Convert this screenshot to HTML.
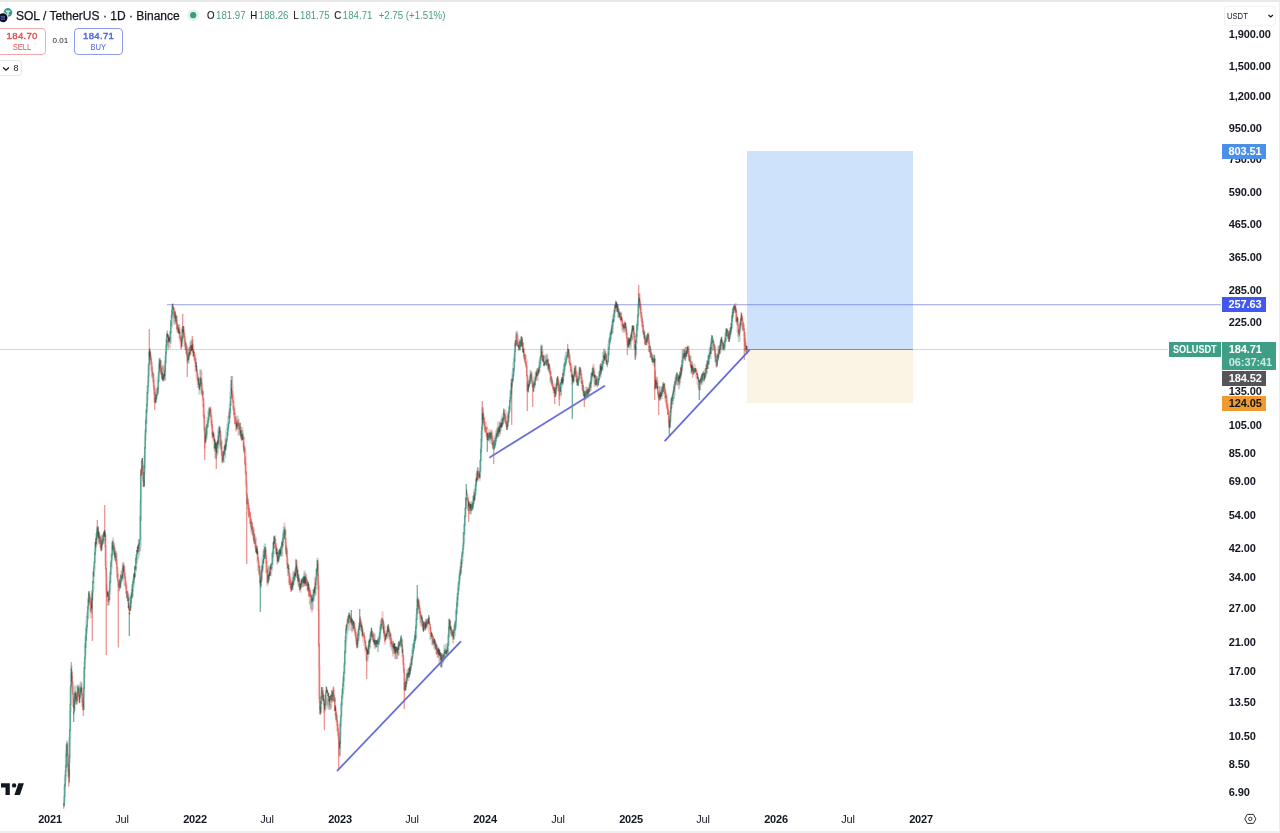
<!DOCTYPE html>
<html lang="en">
<head>
<meta charset="utf-8">
<title>SOL / TetherUS chart</title>
<style>
*{box-sizing:border-box;margin:0;padding:0}
html,body{width:1280px;height:833px;overflow:hidden;background:#fff}
body{position:relative;font-family:"Liberation Sans","DejaVu Sans",sans-serif;color:#131722}
.abs{position:absolute}
#topbar{left:0;top:0;width:1280px;height:2.2px;background:#e8e8e9}
#botbar{left:0;top:830.6px;width:1280px;height:4px;background:#eeeeef}
#rightbar{left:1278.6px;top:0;width:2px;height:833px;background:#ededee}
#chart{left:0;top:0;width:1280px;height:833px}
.title{left:15.8px;top:7.5px;font-size:12.5px;line-height:16px;white-space:nowrap;color:#131722;transform-origin:0 0;transform:scaleX(0.962);-webkit-text-stroke:0.25px #131722}
.ohlc{left:206.7px;top:10.4px;font-size:10.3px;line-height:12px;white-space:nowrap;color:#131722;transform-origin:0 0;transform:scaleX(0.94);-webkit-text-stroke:0.15px currentColor}
.ohlc span{color:#4a9b87;margin-left:1.6px;-webkit-text-stroke:0}
.ohlc i{font-style:normal;display:inline-block;width:5px}
.btn{top:28.2px;height:27px;border:1px solid;border-radius:4px;text-align:center;font-size:9.6px;line-height:10.6px;padding-top:1.6px;background:#fff}
.btn b{font-weight:400;-webkit-text-stroke:0.4px currentColor;letter-spacing:0.3px;margin-right:-0.3px}
.btn span{font-size:9px;display:inline-block;transform:scaleX(0.84);position:relative;top:0.4px}
.sell{left:-3px;width:48.8px;border-color:#f0a9a7;color:#e2524f;padding-left:1.3px}
.buy{left:74px;width:49px;border-color:#8d9bf0;color:#4c62e6}
.spread{left:52.6px;top:36px;font-size:8px;line-height:10px;color:#131722}
.dd{left:-3px;top:60.3px;width:24.6px;height:16.2px;border:1px solid #e6e7ea;border-radius:3px;font-size:9px;line-height:14.4px;padding-left:15.6px}
.pl{position:absolute;left:1228.8px;font-size:11px;line-height:14px;font-weight:700;color:#131722;white-space:nowrap;letter-spacing:-0.1px}
.tag{position:absolute;font-size:11px;line-height:15px;font-weight:700;color:#fff;white-space:nowrap;padding-left:7px;letter-spacing:-0.1px}
.tl{position:absolute;top:811.8px;width:60px;text-align:center;font-size:11px;line-height:14px;color:#131722;letter-spacing:-0.2px}
.tl.b{font-weight:700}
.usdt{left:1224px;top:5.6px;width:51.7px;height:20.2px;border:1px solid #f0f1f3;border-radius:3px;font-size:9.8px;line-height:18.6px;padding-left:2px;color:#131722}
.usdt span{display:inline-block;transform-origin:0 50%;transform:scaleX(0.78)}
</style>
</head>
<body>
<svg id="chart" class="abs" width="1280" height="833" viewBox="0 0 1280 833">
  <!-- long position box -->
  <rect x="747" y="151" width="166" height="198.5" fill="#cee3fb"/>
  <rect x="747" y="349.5" width="166" height="53.7" fill="#fbf3e3"/>
  <!-- dotted current price line -->
  <line x1="0" y1="349.5" x2="1168" y2="349.5" stroke="#d9dcdd" stroke-width="1"/>
  <line x1="0" y1="349.5" x2="1168" y2="349.5" stroke="#b9c4c1" stroke-width="1" stroke-dasharray="1 3" opacity="0.45"/>
  <line x1="747" y1="349.5" x2="913" y2="349.5" stroke="#868e94" stroke-width="1.2"/>
  <!-- horizontal ray -->
  <line x1="167" y1="304.5" x2="1221" y2="304.5" stroke="#5560d4" stroke-width="1" opacity="0.46"/>
  <line x1="167" y1="305.5" x2="1221" y2="305.5" stroke="#5560d4" stroke-width="1" opacity="0.13"/>
  <!-- candles -->
  <path d="M64.25 796.0V806.3M64.75 783.7V797.1M65.25 775.0V786.7M65.75 764.7V776.3M66.25 754.1V767.7M66.75 743.4V755.8M69.25 756.1V782.6M69.75 729.2V757.5M70.25 703.5V731.2M70.75 685.4V705.1M71.25 668.5V686.7M74.25 699.8V711.7M74.75 692.9V704.9M75.25 692.3V699.6M77.25 691.6V701.3M77.75 686.5V694.2M78.25 687.3V690.9M79.75 694.8V702.8M80.25 687.5V698.0M80.75 687.8V691.4M81.25 686.2V692.5M83.75 686.9V710.2M84.25 667.0V689.1M84.75 656.9V669.0M85.25 643.0V658.0M85.75 634.5V648.1M86.25 627.8V641.1M86.75 624.7V633.8M87.25 616.1V627.6M87.75 606.1V618.1M88.25 599.3V609.5M88.75 591.2V601.8M91.75 597.7V608.2M92.25 591.3V600.9M92.75 581.3V592.8M93.75 567.6V576.6M94.25 561.7V568.6M94.75 552.3V562.9M95.25 542.0V555.0M96.25 533.0V544.1M96.75 530.6V538.4M97.25 527.5V536.4M97.75 527.5V533.5M98.75 531.6V538.3M101.75 540.0V549.1M102.25 541.5V545.8M102.75 538.8V543.5M103.25 533.8V540.9M103.75 531.4V536.8M104.75 530.1V537.1M107.75 591.2V597.1M109.25 590.5V600.2M109.75 581.0V591.6M110.25 572.3V582.8M110.75 562.1V574.6M111.25 560.4V566.9M111.75 553.9V561.6M112.25 542.6V556.2M112.75 541.3V551.3M114.75 550.7V557.4M120.25 579.8V588.5M120.75 574.7V584.4M121.25 577.3V580.3M121.75 576.4V581.5M122.75 567.6V577.5M123.25 564.8V572.5M128.25 597.6V608.2M130.25 606.0V610.9M130.75 596.5V607.4M131.25 595.6V603.4M131.75 592.7V598.8M132.25 584.5V596.5M132.75 581.2V591.3M133.25 579.8V585.3M133.75 575.1V582.9M134.75 567.2V577.9M135.25 565.7V570.8M135.75 557.6V569.6M136.25 553.9V564.0M136.75 550.1V559.5M137.75 545.4V554.3M138.75 542.5V549.0M139.25 539.7V546.8M139.75 539.3V545.1M140.25 515.9V540.3M140.75 474.4V521.0M141.25 468.4V475.8M141.75 460.6V469.9M142.25 458.1V464.6M144.25 465.0V485.8M144.75 447.0V468.4M145.25 429.8V449.0M145.75 418.9V432.2M146.25 409.6V423.7M146.75 403.4V413.0M147.25 392.1V406.1M147.75 385.6V394.1M148.25 375.5V386.7M148.75 363.7V376.6M149.25 351.8V364.9M149.75 348.4V359.7M155.25 397.3V402.1M155.75 394.6V403.4M156.25 394.6V399.8M156.75 393.4V399.0M157.25 393.3V396.1M157.75 386.4V394.5M158.25 380.1V389.6M158.75 371.6V382.0M159.25 362.7V372.8M159.75 358.5V367.4M162.25 372.2V379.8M163.25 375.6V381.4M163.75 373.8V380.0M164.75 370.4V376.2M165.25 360.6V371.9M165.75 352.1V363.0M166.25 344.2V353.9M166.75 333.2V345.8M167.75 334.1V336.8M168.75 336.4V341.6M169.75 337.0V342.1M170.25 331.1V340.0M170.75 320.3V333.2M171.25 314.9V326.0M171.75 309.8V318.3M172.25 306.2V314.9M172.75 303.4V309.8M173.25 305.7V310.2M175.25 311.5V318.1M175.75 313.7V321.2M178.75 327.8V333.0M179.25 328.9V334.1M181.75 337.6V346.4M182.25 335.8V340.7M182.75 329.4V338.6M183.25 326.2V333.1M188.25 356.2V360.0M188.75 353.7V360.3M189.25 352.1V357.7M191.25 345.4V351.0M192.25 344.7V349.9M193.25 349.2V356.4M196.25 361.9V371.2M198.25 377.6V384.7M199.75 384.3V389.6M200.25 377.1V386.8M200.75 377.8V386.0M205.75 434.8V441.5M206.25 426.2V438.2M206.75 424.5V434.8M207.25 423.5V428.1M207.75 420.5V427.4M208.25 417.5V423.2M208.75 413.2V420.5M209.25 411.1V417.0M209.75 408.8V415.1M213.25 432.5V437.0M214.75 438.5V448.3M215.75 442.5V449.0M216.75 442.4V453.0M217.25 441.0V446.2M218.25 435.2V443.9M218.75 430.9V438.2M219.25 426.6V434.7M223.25 451.3V460.8M223.75 450.7V455.6M224.25 445.8V454.7M224.75 445.5V452.2M225.75 443.9V449.4M226.25 439.9V446.5M226.75 438.5V442.8M227.25 432.6V440.7M227.75 427.3V435.4M228.25 424.3V430.8M228.75 422.0V427.5M229.25 416.6V423.5M229.75 408.2V417.8M230.25 403.8V412.9M230.75 395.9V405.7M231.25 389.6V398.6M236.75 423.0V426.9M240.75 430.6V436.2M242.25 434.2V439.9M256.25 548.2V552.9M257.25 548.6V554.7M260.75 579.1V586.2M261.25 573.3V582.1M261.75 568.9V579.6M262.25 565.6V570.5M262.75 560.7V569.0M263.25 558.7V564.5M264.25 550.3V559.1M264.75 546.8V556.8M265.25 547.6V553.6M268.25 574.9V583.3M268.75 574.5V578.7M269.75 571.3V576.3M270.75 563.9V569.3M272.25 553.4V564.5M272.75 551.6V557.6M273.25 542.0V554.0M274.25 536.6V544.0M276.75 548.5V554.2M277.75 556.1V561.2M278.25 552.6V562.5M278.75 553.6V560.4M279.25 550.1V558.6M279.75 548.9V554.6M280.75 546.6V556.3M281.25 546.1V550.1M281.75 541.6V549.3M282.75 538.0V546.3M283.25 534.4V542.1M283.75 531.7V538.8M284.25 529.6V538.6M284.75 528.8V535.0M288.25 565.1V569.1M291.75 582.3V590.4M292.25 583.3V589.2M293.25 577.4V585.2M293.75 576.5V584.8M294.25 573.9V581.5M294.75 572.3V580.6M295.75 566.9V575.9M296.25 564.8V571.1M297.75 570.1V581.4M298.25 574.7V578.2M298.75 574.5V582.2M300.25 583.7V589.7M301.75 579.5V584.5M302.25 578.2V582.5M302.75 577.3V582.0M303.25 576.9V582.7M304.25 576.6V583.0M305.25 575.7V584.0M308.25 582.2V589.6M311.25 594.7V599.6M311.75 596.7V602.6M312.75 594.8V601.7M313.25 589.0V600.3M313.75 590.3V597.7M314.75 586.4V592.8M315.25 582.6V589.0M315.75 579.0V584.9M316.25 568.5V580.1M316.75 569.5V574.8M317.25 563.8V570.8M320.75 701.1V712.8M321.25 696.1V704.0M321.75 687.0V699.0M323.25 695.0V700.9M324.75 699.7V709.3M325.25 695.0V705.9M325.75 690.4V697.9M326.25 686.5V691.9M327.25 689.4V693.1M328.25 693.3V697.2M329.25 695.9V702.4M330.75 694.4V700.0M331.75 690.1V701.0M332.25 691.7V696.8M335.25 705.2V711.3M339.75 742.8V748.7M340.25 723.7V744.1M340.75 716.0V726.5M341.25 703.6V717.3M341.75 695.2V705.6M342.25 688.2V698.1M342.75 683.3V693.5M343.25 676.4V686.6M343.75 671.6V681.5M344.25 662.7V673.8M344.75 650.5V664.6M345.25 640.3V653.1M345.75 628.6V642.0M346.25 624.4V633.3M348.25 615.6V623.5M348.75 612.7V619.0M349.25 612.6V618.8M352.25 618.6V625.3M352.75 620.9V626.0M353.25 620.8V628.6M357.25 640.1V647.8M357.75 633.4V644.2M358.25 629.8V640.7M358.75 627.7V635.7M359.25 622.6V630.1M359.75 618.8V627.2M361.75 624.7V631.6M362.25 626.4V635.5M366.25 646.4V650.7M367.25 649.8V654.3M368.25 645.1V654.0M368.75 640.8V649.1M369.25 639.4V647.0M370.25 636.9V641.8M370.75 632.4V640.1M371.25 627.5V636.1M374.25 639.9V644.3M375.25 640.2V644.6M375.75 640.1V646.0M376.25 640.5V647.0M377.25 639.5V644.1M377.75 640.2V644.6M378.25 638.4V642.5M378.75 637.9V644.6M379.25 635.6V642.8M379.75 632.0V639.4M380.25 626.5V634.7M380.75 624.6V630.8M381.25 624.2V629.0M383.75 626.6V633.4M385.75 634.5V640.3M386.25 633.5V637.1M387.75 624.9V632.6M388.25 623.9V631.9M393.75 643.7V648.4M394.75 643.0V651.1M395.75 646.4V652.9M396.75 646.8V651.9M397.25 648.1V653.2M398.75 641.4V649.8M399.25 641.7V645.5M399.75 642.8V646.1M400.25 639.5V645.3M400.75 636.6V643.4M402.25 644.6V653.0M405.25 685.5V690.0M405.75 681.5V690.7M406.75 674.5V684.3M407.25 673.0V679.3M407.75 672.8V677.2M408.75 671.7V674.7M409.25 668.2V677.0M410.25 666.4V673.7M410.75 664.3V669.4M411.25 662.6V667.2M411.75 656.7V664.8M412.75 649.5V657.6M413.25 644.5V654.0M413.75 642.9V651.0M414.25 639.9V648.2M414.75 634.4V644.3M415.25 630.9V640.9M415.75 626.0V637.2M416.25 618.4V628.8M416.75 608.0V620.0M417.25 600.7V614.0M417.75 600.0V606.4M421.75 614.8V620.0M422.25 616.9V622.4M423.25 621.9V631.8M425.25 622.5V629.8M426.25 621.5V628.0M426.75 621.0V625.1M428.75 615.0V624.1M431.75 632.6V637.0M434.25 638.7V644.1M435.75 643.5V648.8M437.75 649.3V653.1M438.25 647.8V653.7M439.25 649.6V655.4M440.25 651.9V656.4M441.25 655.1V661.1M441.75 653.1V661.4M443.75 654.0V658.2M444.25 652.4V656.9M444.75 650.0V656.7M445.25 650.9V653.6M446.75 649.7V654.0M447.25 646.3V652.1M447.75 643.1V650.4M448.25 634.0V646.0M448.75 626.6V637.1M449.25 619.1V628.5M450.75 626.3V630.2M453.25 631.3V637.2M453.75 629.0V638.9M454.25 625.7V633.2M454.75 623.5V629.7M455.25 621.6V630.6M455.75 620.4V627.4M456.25 610.1V621.5M456.75 602.4V614.2M457.25 596.7V606.7M457.75 593.0V600.2M458.25 587.7V595.0M458.75 582.0V590.0M459.25 575.6V585.0M459.75 572.5V579.2M460.25 569.9V576.1M460.75 567.2V572.3M461.25 559.1V568.2M461.75 554.2V563.6M462.25 551.4V557.6M462.75 548.3V554.0M463.25 542.7V549.6M463.75 531.9V544.4M464.25 524.8V535.0M464.75 515.6V525.9M465.25 507.4V516.9M465.75 497.5V509.3M466.25 486.5V500.2M468.75 501.5V506.6M470.25 504.1V508.4M471.25 504.5V510.9M471.75 505.7V510.7M472.25 503.3V509.9M472.75 502.2V509.6M473.25 500.5V505.7M473.75 495.0V503.8M474.75 492.7V499.5M475.25 488.2V495.5M475.75 483.0V491.5M476.25 478.2V486.3M477.25 471.0V480.3M479.75 470.7V477.3M480.25 459.9V472.4M480.75 449.1V461.2M481.25 438.4V452.5M481.75 426.3V441.5M482.25 417.9V429.9M482.75 413.4V420.2M487.75 433.1V440.5M488.25 436.6V439.1M488.75 434.3V440.7M489.25 432.5V437.5M489.75 432.7V437.3M490.25 432.5V439.7M490.75 433.6V438.1M494.25 440.1V449.6M494.75 442.6V447.7M495.25 438.0V445.9M495.75 438.5V444.6M496.25 433.7V441.4M496.75 433.4V436.3M498.25 427.9V437.0M498.75 427.1V432.8M499.75 425.0V431.7M500.25 422.9V428.2M501.25 423.3V427.2M502.25 419.3V426.7M502.75 417.7V425.1M503.25 416.7V421.5M503.75 408.5V419.5M507.25 424.6V429.9M507.75 420.8V426.9M508.25 415.2V422.9M508.75 411.1V418.3M509.25 405.9V413.2M509.75 399.8V410.0M510.25 396.8V402.5M510.75 390.3V399.2M511.25 383.1V394.5M511.75 378.9V388.3M512.75 374.2V381.5M513.25 368.1V380.1M513.75 368.3V375.7M514.25 358.4V370.4M514.75 350.6V361.4M515.25 342.7V352.0M515.75 340.3V346.1M518.75 344.7V350.8M519.25 345.9V349.7M519.75 341.1V349.5M520.25 343.4V346.9M520.75 340.4V346.2M521.25 336.0V343.7M521.75 336.9V346.6M523.25 348.6V352.9M528.25 384.5V392.5M529.25 380.3V386.8M529.75 378.6V384.1M530.25 375.0V382.7M530.75 372.8V380.3M533.25 385.8V391.1M533.75 383.5V392.1M534.25 382.5V385.8M534.75 380.4V387.8M535.25 377.7V385.2M536.75 372.4V376.7M538.75 366.9V373.1M539.25 365.1V370.8M539.75 361.8V367.9M540.25 357.0V364.5M540.75 354.9V360.5M541.25 349.9V356.9M543.25 355.4V361.9M543.75 359.4V365.9M544.75 361.7V365.3M545.25 361.7V363.9M545.75 360.0V364.6M546.25 359.5V365.4M546.75 359.6V363.5M547.25 359.7V365.3M548.75 363.4V368.9M554.25 387.0V393.1M555.75 387.1V394.7M556.25 383.8V389.7M556.75 378.2V386.6M557.25 376.8V384.9M560.25 383.3V391.0M560.75 382.0V391.9M561.25 378.7V385.1M562.25 377.4V384.4M563.25 372.7V381.3M563.75 369.5V375.8M564.25 364.0V372.7M564.75 362.4V370.4M565.25 361.8V366.0M565.75 358.4V365.3M566.25 356.7V363.5M566.75 355.1V360.4M567.25 352.1V357.4M567.75 348.9V356.4M568.25 348.8V352.9M572.25 374.2V379.7M573.25 375.3V382.4M574.75 368.0V375.5M577.25 378.5V385.6M578.25 378.6V386.0M578.75 376.4V381.0M579.25 371.3V379.4M579.75 366.7V375.1M583.75 390.5V396.2M584.75 394.5V397.9M585.25 392.7V397.0M585.75 390.8V395.7M586.25 390.7V395.4M586.75 390.7V397.1M587.25 389.7V395.1M587.75 388.9V394.4M589.25 387.1V391.8M589.75 385.0V389.3M590.25 381.8V387.5M590.75 379.9V384.7M591.25 373.6V383.5M591.75 372.2V379.5M592.75 367.9V376.0M594.75 374.6V377.9M596.25 379.6V385.4M598.25 378.8V385.4M598.75 378.0V382.5M599.25 374.7V380.1M599.75 370.6V377.7M600.25 365.4V374.8M601.25 366.5V373.5M602.25 361.0V368.9M602.75 361.0V366.5M603.25 359.8V363.7M603.75 355.2V363.8M604.75 353.5V359.8M606.75 359.8V365.0M608.25 352.8V362.3M608.75 346.8V355.5M609.25 339.6V349.9M609.75 336.9V344.8M610.25 332.7V342.5M610.75 331.6V339.8M611.25 329.7V335.0M611.75 324.8V334.7M612.25 321.2V328.6M612.75 319.5V325.9M613.75 313.2V321.5M614.25 310.0V317.4M615.25 304.9V308.1M615.75 300.7V309.2M616.75 302.3V307.3M617.75 305.7V311.6M618.25 308.7V312.9M618.75 308.4V314.8M619.25 311.2V317.8M621.25 317.2V319.9M623.25 323.9V327.7M623.75 325.4V329.0M625.25 322.5V327.7M628.25 340.5V346.9M628.75 337.6V345.8M629.75 339.2V344.0M630.75 334.6V340.5M631.75 329.6V337.9M632.25 325.5V332.3M633.25 325.8V330.3M635.75 340.8V350.0M636.25 333.9V343.0M636.75 324.2V336.8M637.25 324.2V329.8M637.75 314.4V325.5M638.25 305.5V316.4M638.75 299.6V307.8M639.25 297.4V302.2M644.25 332.2V338.7M646.75 335.5V343.1M647.25 335.1V342.2M647.75 333.3V338.0M652.75 357.7V362.0M653.25 358.3V361.7M653.75 359.3V363.1M654.25 354.9V362.8M655.75 379.9V388.0M657.25 382.8V389.2M659.25 394.2V400.1M660.25 392.0V398.4M661.75 389.9V396.0M662.25 386.7V393.7M662.75 386.6V391.8M663.25 384.5V392.0M663.75 383.7V387.7M669.75 420.5V426.7M670.25 415.4V423.0M670.75 407.1V416.6M671.25 397.9V409.6M671.75 396.9V404.3M672.25 395.1V401.3M672.75 392.4V399.0M673.25 390.3V394.7M674.25 385.3V391.6M675.25 380.5V384.9M675.75 376.7V383.6M676.25 374.3V380.9M676.75 372.5V376.6M678.75 374.5V381.4M679.75 371.5V378.7M680.25 373.0V378.9M681.25 367.1V374.6M681.75 364.3V371.1M682.25 359.7V367.3M682.75 356.3V363.4M683.25 353.5V359.0M683.75 354.4V357.4M684.25 349.8V357.3M685.75 353.1V355.9M686.25 351.1V357.0M687.25 347.1V353.4M691.25 364.7V373.8M692.25 365.2V369.7M693.25 369.2V374.4M693.75 368.4V374.4M694.25 367.9V373.2M694.75 368.3V372.4M695.25 368.6V372.5M697.25 373.2V378.4M698.25 377.2V380.2M698.75 379.1V382.5M700.75 378.3V381.4M701.25 377.0V381.3M701.75 374.0V382.8M702.25 374.5V378.8M702.75 372.8V380.3M704.75 373.1V379.1M705.25 371.4V377.8M705.75 367.9V376.6M707.25 360.5V369.0M707.75 361.0V363.9M708.25 355.5V364.4M708.75 355.1V364.7M709.25 354.0V359.4M710.25 347.1V354.4M710.75 343.1V354.0M711.25 339.1V349.1M711.75 337.5V344.0M712.25 335.5V341.1M712.75 337.6V342.4M717.25 355.8V365.5M717.75 354.3V360.8M718.25 353.9V360.6M719.25 349.0V354.0M720.25 341.8V349.3M720.75 339.8V346.2M721.25 337.2V342.5M723.75 345.4V349.4M724.25 344.0V349.1M724.75 340.0V347.5M725.25 337.8V342.8M725.75 332.7V341.6M726.25 328.2V336.6M726.75 329.7V332.7M729.25 333.3V341.4M729.75 331.0V339.1M730.25 330.5V333.7M730.75 327.0V335.3M731.75 318.8V328.6M732.25 314.9V322.3M732.75 308.8V317.3M733.25 307.2V313.7M733.75 305.8V309.3M735.25 305.8V309.7M735.75 307.4V312.8M737.25 316.7V321.6M739.25 329.6V335.6M739.75 323.8V332.1M740.25 321.7V328.9M741.25 312.5V320.9M746.25 345.6V349.0M129.25 612.6V636.0M73.75 711.5V722.0M260.25 581.3V612.0M231.25 380.0V390.9M317.25 560.0V567.3M351.25 610.0V621.7M359.75 609.0V620.1M417.25 585.0V602.0M441.25 659.7V667.0M466.25 484.0V490.3M487.25 438.7V452.0M521.25 336.0V338.8M541.25 346.0V352.3M572.25 378.0V419.0M635.25 345.0V360.0M669.25 424.0V437.0M699.25 380.6V400.0M734.75 306.2V307.0" stroke="#2b8873" stroke-width="1.1" fill="none" opacity="0.8"/>
<path d="M63.75 802.9V808.8M67.25 744.9V755.1M67.75 753.8V767.5M68.25 763.5V771.7M68.75 769.4V786.5M71.75 670.4V681.3M72.25 675.8V683.5M72.75 682.3V694.4M73.25 693.4V706.4M73.75 704.9V713.7M75.75 693.0V701.5M76.25 695.3V698.1M76.75 694.5V704.8M78.75 688.5V696.4M79.25 691.6V703.2M81.75 688.3V695.6M82.25 693.6V702.7M82.75 698.6V710.1M83.25 704.0V712.6M89.25 591.2V596.8M89.75 594.3V603.1M90.25 600.9V604.7M90.75 602.4V611.2M91.25 604.9V609.5M93.25 571.3V583.3M95.75 538.4V548.2M98.25 526.7V537.5M99.25 532.2V542.0M99.75 534.2V543.4M100.25 535.9V547.9M100.75 537.7V546.7M101.25 543.4V551.5M104.25 531.4V536.0M105.25 532.8V547.1M105.75 544.9V569.7M106.25 568.1V587.8M106.75 584.3V595.5M107.25 591.7V596.7M108.25 592.5V601.3M108.75 597.6V602.1M113.25 544.9V550.2M113.75 545.2V554.8M114.25 547.1V554.4M115.25 553.0V557.3M115.75 553.9V561.7M116.25 556.5V564.3M116.75 561.4V568.6M117.25 567.0V577.6M117.75 573.7V581.9M118.25 579.7V584.3M118.75 583.2V591.8M119.25 585.5V591.1M119.75 579.2V588.6M122.25 573.7V579.5M123.75 565.7V572.0M124.25 566.7V576.0M124.75 572.8V579.0M125.25 576.5V586.0M125.75 582.0V589.1M126.25 584.9V593.1M126.75 590.4V597.4M127.25 590.9V597.4M127.75 594.4V601.0M128.75 603.2V610.4M129.25 605.8V613.8M129.75 609.3V614.6M134.25 573.0V579.9M137.25 546.8V552.6M138.25 544.3V551.9M142.75 463.1V473.7M143.25 472.4V482.0M143.75 479.5V486.9M150.25 350.8V356.9M150.75 353.6V360.7M151.25 357.9V364.3M151.75 361.7V371.5M152.25 366.9V372.2M152.75 371.2V375.3M153.25 373.5V381.9M153.75 379.5V390.2M154.25 385.5V394.7M154.75 391.5V400.5M160.25 360.5V371.9M160.75 366.5V372.9M161.25 367.8V374.6M161.75 368.0V379.1M162.75 374.4V381.0M164.25 373.2V378.6M167.25 330.6V338.1M168.25 334.3V342.9M169.25 337.9V341.4M173.75 307.5V313.3M174.25 307.5V315.8M174.75 310.3V318.1M176.25 316.0V323.8M176.75 320.0V329.5M177.25 323.1V332.5M177.75 324.7V329.8M178.25 327.0V333.5M179.75 331.3V338.5M180.25 335.4V339.6M180.75 336.7V341.8M181.25 339.5V349.3M183.75 329.4V337.4M184.25 332.8V337.2M184.75 335.8V342.3M185.25 339.5V349.8M185.75 342.8V348.4M186.25 345.9V353.8M186.75 349.5V356.3M187.25 352.8V357.9M187.75 354.4V362.2M189.75 347.3V355.3M190.25 347.3V354.1M190.75 345.0V351.9M191.75 346.8V351.0M192.75 343.4V352.5M193.75 351.3V356.1M194.25 351.5V360.4M194.75 355.1V361.3M195.25 358.0V363.6M195.75 357.8V367.3M196.75 365.7V372.8M197.25 370.1V377.4M197.75 373.1V380.6M198.75 379.6V388.1M199.25 382.9V390.0M201.25 378.9V384.1M201.75 382.7V393.2M202.25 388.2V396.3M202.75 391.8V399.5M203.25 397.9V406.9M203.75 403.5V418.4M204.25 414.3V430.0M204.75 428.0V437.1M205.25 433.3V442.6M210.25 407.2V411.1M210.75 408.8V417.0M211.25 415.0V425.0M211.75 420.8V427.5M212.25 424.2V438.6M212.75 430.5V435.6M213.75 433.7V440.5M214.25 436.5V441.6M215.25 440.5V451.4M216.25 442.8V447.4M217.75 439.5V447.9M219.75 427.0V432.9M220.25 430.7V436.3M220.75 435.1V445.2M221.25 442.0V450.2M221.75 447.0V455.7M222.25 452.0V461.9M222.75 453.7V461.5M225.25 443.9V450.2M231.75 388.1V395.6M232.25 390.4V398.7M232.75 394.6V402.7M233.25 400.2V410.6M233.75 406.0V415.2M234.25 408.5V415.1M234.75 412.5V423.9M235.25 415.9V420.7M235.75 418.4V424.8M236.25 421.5V430.0M237.25 420.4V428.7M237.75 421.2V424.3M238.25 421.5V425.7M238.75 419.0V426.1M239.25 422.9V429.8M239.75 423.2V429.8M240.25 423.0V433.5M241.25 430.1V438.2M241.75 433.9V441.0M242.75 433.6V440.1M243.25 437.8V447.4M243.75 442.1V450.8M244.25 447.5V453.6M244.75 451.2V463.7M245.25 456.6V465.4M245.75 462.5V474.3M246.25 471.5V484.6M246.75 483.5V496.3M247.25 493.9V503.3M247.75 499.7V504.7M248.25 502.8V509.6M248.75 505.7V517.7M249.25 508.0V516.2M249.75 511.2V516.3M250.25 512.8V523.3M250.75 517.4V524.1M251.25 519.0V529.8M251.75 521.8V526.4M252.25 522.6V529.0M252.75 526.2V534.0M253.25 529.4V539.2M253.75 532.5V541.5M254.25 533.9V544.0M254.75 538.6V544.2M255.25 540.6V548.2M255.75 543.8V551.8M256.75 545.8V553.8M257.75 551.0V560.4M258.25 557.0V562.5M258.75 560.8V567.7M259.25 566.0V571.5M259.75 570.2V582.8M260.25 577.0V583.0M263.75 554.8V563.2M265.75 549.7V559.1M266.25 555.6V563.8M266.75 561.7V572.8M267.25 569.4V583.4M267.75 574.2V581.1M269.25 573.0V580.4M270.25 566.3V574.2M271.25 564.8V569.9M271.75 562.7V568.6M273.75 541.0V549.0M274.75 536.6V542.6M275.25 538.9V548.0M275.75 543.3V549.5M276.25 545.4V554.7M277.25 552.0V564.5M280.25 549.2V553.8M282.25 542.0V547.8M285.25 530.2V539.8M285.75 537.9V550.4M286.25 544.9V554.1M286.75 550.6V557.1M287.25 556.0V565.2M287.75 563.1V568.0M288.75 568.0V573.5M289.25 572.4V584.9M289.75 575.9V579.4M290.25 578.4V585.0M290.75 581.6V591.7M291.25 585.2V591.8M292.75 580.6V586.9M295.25 573.2V576.4M296.75 566.5V574.4M297.25 567.2V578.3M299.25 577.9V585.8M299.75 582.7V590.5M300.75 583.0V588.3M301.25 578.9V586.5M303.75 576.1V584.0M304.75 577.1V586.0M305.75 578.6V585.7M306.25 577.0V586.1M306.75 579.2V584.3M307.25 581.2V591.0M307.75 581.0V590.6M308.75 584.0V595.9M309.25 586.8V595.5M309.75 590.6V597.1M310.25 589.7V596.3M310.75 593.6V597.5M312.25 598.0V600.8M314.25 586.7V593.4M317.75 563.7V575.6M318.25 573.7V589.4M318.75 585.6V646.5M319.25 643.6V698.6M319.75 697.2V710.1M320.25 707.5V714.8M322.25 690.5V697.3M322.75 692.7V699.8M323.75 699.1V705.8M324.25 703.5V710.0M326.75 687.2V693.9M327.75 690.8V696.0M328.75 692.6V700.9M329.75 696.6V706.1M330.25 696.2V700.1M331.25 694.7V697.5M332.75 690.8V699.7M333.25 686.5V693.2M333.75 689.6V701.1M334.25 694.9V701.9M334.75 699.1V711.1M335.75 707.4V716.1M336.25 711.5V719.2M336.75 715.5V722.6M337.25 719.5V726.1M337.75 723.5V731.4M338.25 727.8V736.3M338.75 732.8V743.5M339.25 740.2V747.2M346.75 623.3V629.9M347.25 618.3V627.7M347.75 619.4V623.4M349.75 614.9V617.5M350.25 614.3V622.4M350.75 618.5V621.8M351.25 618.3V622.9M351.75 619.2V624.5M353.75 621.1V623.5M354.25 622.4V628.9M354.75 626.1V632.4M355.25 629.3V636.1M355.75 632.0V638.6M356.25 635.7V640.9M356.75 638.0V645.8M360.25 616.6V626.6M360.75 618.7V626.2M361.25 622.4V627.7M362.75 629.4V636.6M363.25 634.1V637.0M363.75 633.7V636.8M364.25 632.6V639.1M364.75 636.1V642.9M365.25 639.5V646.0M365.75 642.0V649.3M366.75 648.0V652.2M367.75 649.3V654.8M369.75 639.1V643.4M371.75 628.5V636.7M372.25 630.7V636.8M372.75 634.6V640.0M373.25 634.2V642.2M373.75 638.9V642.3M374.75 638.8V644.6M376.75 640.6V643.8M381.75 618.5V625.5M382.25 618.5V623.2M382.75 618.7V626.9M383.25 620.1V629.8M384.25 630.0V636.3M384.75 633.8V641.8M385.25 636.5V639.8M386.75 630.8V636.6M387.25 626.2V634.8M388.75 625.8V632.1M389.25 628.1V633.9M389.75 630.5V638.8M390.25 634.0V640.5M390.75 633.6V643.7M391.25 637.6V643.7M391.75 639.4V644.5M392.25 641.9V646.5M392.75 642.8V647.8M393.25 641.0V648.6M394.25 643.7V653.6M395.25 646.4V654.5M396.25 646.7V651.3M397.75 647.2V653.7M398.25 645.4V649.8M401.25 634.9V642.5M401.75 639.1V646.4M402.75 649.6V656.5M403.25 654.5V664.9M403.75 663.1V672.8M404.25 668.4V683.3M404.75 681.7V690.3M406.25 680.4V687.0M408.25 668.0V677.8M409.75 665.7V674.9M412.25 656.4V660.2M418.25 599.1V609.3M418.75 602.2V606.3M419.25 605.1V613.1M419.75 607.9V614.2M420.25 611.0V616.7M420.75 611.8V617.7M421.25 615.5V618.9M422.75 619.7V626.4M423.75 623.7V631.5M424.25 621.8V627.1M424.75 622.8V628.0M425.75 623.7V626.9M427.25 618.3V624.0M427.75 618.3V623.2M428.25 618.2V622.9M429.25 616.7V624.6M429.75 621.7V625.4M430.25 624.0V630.3M430.75 626.9V634.2M431.25 631.5V635.9M432.25 633.8V637.4M432.75 634.5V643.5M433.25 636.0V641.3M433.75 637.0V642.9M434.75 639.0V644.6M435.25 640.4V645.9M436.25 644.6V654.0M436.75 645.4V655.0M437.25 648.2V652.9M438.75 648.8V655.3M439.75 649.7V655.5M440.75 652.9V660.0M442.25 654.6V662.1M442.75 654.9V661.5M443.25 654.4V657.7M445.75 650.9V654.1M446.25 649.7V654.2M449.75 620.2V626.7M450.25 621.1V629.8M451.25 627.8V636.3M451.75 629.4V633.6M452.25 630.1V635.8M452.75 632.1V636.6M466.75 489.7V494.5M467.25 492.9V496.0M467.75 494.7V501.5M468.25 498.7V510.7M469.25 503.0V507.1M469.75 504.5V509.8M470.75 504.1V510.8M474.25 496.9V500.8M476.75 476.8V481.9M477.75 467.0V475.7M478.25 471.0V477.0M478.75 473.6V478.0M479.25 473.7V478.4M483.25 412.5V423.5M483.75 417.7V422.8M484.25 417.5V425.8M484.75 421.4V430.0M485.25 426.7V432.8M485.75 426.2V432.8M486.25 428.0V435.9M486.75 431.7V438.5M487.25 433.1V439.9M491.25 432.9V437.5M491.75 431.5V441.2M492.25 436.0V445.1M492.75 441.9V447.9M493.25 441.6V449.1M493.75 444.0V449.9M497.25 431.4V438.5M497.75 430.1V434.3M499.25 427.4V432.7M500.75 425.0V428.2M501.75 422.3V427.2M504.25 413.0V419.7M504.75 415.4V422.0M505.25 414.3V423.7M505.75 416.4V423.4M506.25 420.5V427.3M506.75 422.9V429.9M512.25 379.0V386.1M516.25 338.0V342.5M516.75 334.5V344.9M517.25 341.1V346.1M517.75 343.2V346.7M518.25 342.6V347.4M522.25 339.3V346.7M522.75 342.0V352.1M523.75 349.7V357.1M524.25 354.3V360.5M524.75 353.5V362.5M525.25 358.3V364.2M525.75 361.3V366.5M526.25 361.3V367.8M526.75 365.8V376.0M527.25 374.9V387.1M527.75 383.2V391.3M528.75 384.0V388.7M531.25 374.1V378.4M531.75 376.8V382.4M532.25 380.1V386.9M532.75 383.0V388.5M535.75 376.2V380.7M536.25 371.1V380.2M537.25 368.6V375.9M537.75 371.1V374.3M538.25 370.0V375.3M541.75 351.0V357.2M542.25 352.1V360.5M542.75 354.9V361.1M544.25 361.3V366.3M547.75 358.4V362.4M548.25 359.4V367.3M549.25 364.5V372.5M549.75 367.6V373.4M550.25 369.7V375.2M550.75 371.5V380.1M551.25 376.0V380.2M551.75 377.5V385.3M552.25 380.2V386.3M552.75 383.5V389.0M553.25 385.8V389.7M553.75 386.2V391.1M554.75 388.7V394.4M555.25 391.5V397.1M557.75 375.9V380.8M558.25 376.8V385.9M558.75 381.3V391.5M559.25 384.5V389.6M559.75 386.9V391.5M561.75 377.0V383.5M562.75 372.8V383.1M568.75 349.5V358.0M569.25 352.8V363.1M569.75 355.5V364.8M570.25 362.4V366.0M570.75 362.8V371.6M571.25 367.0V372.2M571.75 369.2V377.5M572.75 375.5V380.9M573.75 374.3V380.4M574.25 370.8V378.2M575.25 366.2V374.1M575.75 369.5V376.7M576.25 371.8V377.3M576.75 375.5V382.6M577.75 381.9V384.5M580.25 367.6V372.0M580.75 370.1V375.2M581.25 373.8V379.3M581.75 376.9V383.8M582.25 380.0V387.3M582.75 383.4V390.8M583.25 385.4V392.8M584.25 391.0V397.3M588.25 389.8V394.0M588.75 388.7V392.7M592.25 373.1V376.7M593.25 370.4V374.4M593.75 368.2V376.5M594.25 370.8V377.0M595.25 375.3V385.6M595.75 379.8V385.2M596.75 376.2V384.5M597.25 381.1V387.1M597.75 382.2V385.5M600.75 363.3V371.6M601.75 366.4V371.4M604.25 356.0V361.0M605.25 351.3V359.0M605.75 353.3V360.8M606.25 355.6V362.9M607.25 361.6V367.2M607.75 361.0V364.8M613.25 318.4V322.5M614.75 305.1V312.4M616.25 301.8V307.9M617.25 304.0V311.8M619.75 313.5V316.6M620.25 312.7V316.8M620.75 312.7V320.9M621.75 316.3V321.9M622.25 318.4V326.1M622.75 322.6V326.7M624.25 324.8V328.6M624.75 321.2V328.5M625.75 322.7V329.0M626.25 326.6V334.9M626.75 332.0V338.7M627.25 337.0V345.1M627.75 339.1V347.8M629.25 337.7V344.9M630.25 337.2V342.3M631.25 332.3V336.7M632.75 325.8V331.3M633.75 327.7V334.6M634.25 331.7V338.0M634.75 335.7V343.1M635.25 339.6V348.6M639.75 299.2V305.3M640.25 302.3V310.1M640.75 305.9V314.3M641.25 311.9V318.1M641.75 315.6V321.7M642.25 318.0V327.1M642.75 320.9V328.7M643.25 325.0V333.0M643.75 329.7V334.9M644.75 335.0V343.9M645.25 337.8V344.7M645.75 338.3V344.8M646.25 338.9V344.9M648.25 334.1V339.9M648.75 337.2V343.9M649.25 340.7V348.0M649.75 344.6V352.7M650.25 346.1V354.0M650.75 349.0V357.5M651.25 352.0V355.3M651.75 354.0V359.9M652.25 356.2V361.9M654.75 357.9V372.2M655.25 370.3V388.8M656.25 379.9V383.6M656.75 380.9V388.1M657.75 386.5V394.9M658.25 391.9V398.4M658.75 391.5V403.5M659.75 394.3V396.7M660.75 392.9V399.3M661.25 392.6V397.0M664.25 383.3V394.1M664.75 387.9V393.0M665.25 388.9V398.0M665.75 392.2V398.5M666.25 395.6V404.2M666.75 399.2V407.0M667.25 403.6V409.8M667.75 406.4V415.1M668.25 409.2V414.0M668.75 412.0V424.0M669.25 417.1V426.9M673.75 386.9V394.5M674.75 381.5V388.7M677.25 372.8V379.3M677.75 374.8V380.8M678.25 377.1V382.1M679.25 376.0V384.5M680.75 367.4V376.4M684.75 352.7V359.6M685.25 353.1V361.2M686.75 350.2V354.6M687.75 346.7V350.6M688.25 348.0V352.4M688.75 350.9V356.7M689.25 354.1V361.4M689.75 356.1V361.9M690.25 359.6V365.4M690.75 361.5V367.4M691.75 365.0V371.7M692.75 365.9V377.7M695.75 367.9V371.8M696.25 369.6V371.8M696.75 370.6V375.0M697.75 375.5V378.7M699.25 380.0V382.0M699.75 380.6V383.6M700.25 379.0V383.8M703.25 370.9V375.9M703.75 372.3V376.3M704.25 373.6V380.6M706.25 364.3V371.2M706.75 365.1V373.8M709.75 351.8V357.3M713.25 339.6V342.9M713.75 340.7V346.1M714.25 343.5V347.8M714.75 346.7V352.7M715.25 350.0V358.0M715.75 355.4V361.8M716.25 359.5V367.4M716.75 360.2V367.1M718.75 350.7V357.6M719.75 345.5V351.2M721.75 336.5V343.7M722.25 340.5V345.9M722.75 340.6V345.8M723.25 342.7V348.9M727.25 328.9V336.4M727.75 332.7V335.2M728.25 330.7V337.5M728.75 333.8V341.8M731.25 323.2V330.8M734.25 305.8V310.0M734.75 304.8V311.1M736.25 309.7V322.2M736.75 314.0V320.5M737.75 318.6V325.7M738.25 324.2V333.1M738.75 328.9V334.0M740.75 318.3V325.4M741.75 313.6V319.0M742.25 316.2V320.7M742.75 318.4V330.4M743.25 321.8V325.6M743.75 324.1V331.0M744.25 328.6V335.6M744.75 331.9V340.5M745.25 337.8V345.7M745.75 342.7V349.9M746.75 346.1V353.4M92.25 592.8V641.0M106.25 586.5V655.0M118.25 583.2V647.5M104.75 505.0V532.8M97.25 520.0V530.4M71.25 662.0V670.4M83.25 710.2V716.0M68.75 782.0V782.6M149.25 329.0V357.0M154.75 399.0V410.0M182.75 314.0V332.0M187.25 356.8V377.0M192.25 336.0V347.9M204.75 436.0V460.0M216.25 446.2V469.0M246.75 493.9V564.0M296.25 560.0V567.6M324.25 707.8V730.0M338.75 740.6V770.0M366.75 651.1V679.0M404.25 681.7V709.0M468.75 505.4V522.0M482.25 401.0V419.1M493.75 447.2V464.0M511.75 382.4V425.0M516.25 332.0V339.3M527.25 385.9V411.0M532.75 387.1V407.0M554.75 393.3V404.0M559.25 388.1V406.0M567.75 344.0V350.0M584.25 395.7V407.0M627.25 342.9V355.0M638.75 285.0V300.7M654.75 370.3V400.0M658.75 397.7V415.0M685.25 347.0V354.2M711.75 335.0V339.0M744.25 331.9V360.0M172.25 304.0V307.6M140.75 470.0V475.8M142.25 458.0V463.1" stroke="#e2504d" stroke-width="1.1" fill="none" opacity="0.72" style="mix-blend-mode:multiply"/>
<path d="M64.00 799.7V805.9M64.50 785.7V801.4M65.00 777.1V788.7M65.50 770.1V781.0M66.00 750.6V771.8M66.50 743.7V756.1M67.00 740.4V746.3M69.00 759.4V776.3M69.50 737.5V763.3M70.00 710.2V739.5M70.50 686.9V711.8M71.00 673.7V693.0M71.50 665.7V678.8M74.50 697.5V711.0M75.00 685.6V700.7M76.50 697.4V704.2M77.00 696.5V701.8M77.50 684.6V700.3M78.00 685.4V692.2M80.50 682.6V694.6M81.00 681.2V687.7M83.50 692.3V709.7M84.00 671.1V696.7M84.50 661.6V678.4M85.00 644.6V663.5M85.50 636.6V654.4M86.00 627.3V640.9M86.50 620.6V631.1M87.00 613.1V621.9M87.50 611.6V620.0M88.00 606.3V618.9M88.50 597.3V612.4M89.50 597.1V602.1M91.50 608.1V613.2M92.00 589.9V609.8M92.50 590.0V599.8M93.00 586.7V592.2M93.50 571.8V588.7M94.00 565.9V576.7M94.50 561.0V571.0M95.00 549.2V562.3M95.50 542.6V551.8M96.00 541.2V546.9M97.00 532.8V539.9M97.50 526.0V539.0M99.50 536.5V543.4M101.50 538.9V550.7M102.00 534.4V543.7M103.50 536.6V543.2M104.00 532.8V540.4M105.00 533.7V541.0M108.50 599.5V605.2M109.00 598.5V605.2M109.50 593.3V599.9M110.00 576.2V594.3M110.50 571.4V583.4M111.00 566.5V574.8M111.50 552.2V568.5M112.00 545.5V559.3M112.50 540.6V551.2M113.50 542.8V548.0M114.50 547.3V552.7M115.00 547.8V560.2M116.00 551.4V560.7M119.00 582.3V586.0M120.00 581.2V587.5M120.50 578.3V587.3M121.00 575.1V582.1M122.00 572.2V576.2M122.50 568.2V579.7M123.00 562.9V571.2M127.00 591.8V598.8M128.00 593.2V600.9M130.50 597.8V609.6M131.00 595.5V603.5M131.50 592.2V598.8M132.50 584.2V597.0M133.00 583.9V587.6M133.50 577.6V588.4M134.00 573.4V584.4M135.00 565.7V576.9M136.00 558.5V571.5M136.50 558.2V563.5M137.00 554.8V562.7M137.50 554.1V559.6M138.00 552.8V559.0M138.50 548.5V556.8M139.00 539.1V555.0M140.00 544.9V551.0M140.50 500.2V546.9M141.00 475.3V502.3M141.50 468.7V477.7M142.00 460.2V472.9M143.00 472.3V478.8M144.00 474.1V487.1M144.50 455.3V475.1M145.00 437.9V459.6M145.50 433.7V440.6M146.00 420.2V434.7M146.50 409.4V423.8M147.00 395.4V411.0M147.50 385.9V400.5M148.00 381.1V391.1M148.50 364.5V383.1M149.00 362.6V369.7M149.50 350.5V363.7M152.50 372.2V378.2M156.00 391.7V402.2M156.50 388.0V394.0M158.00 377.1V393.6M158.50 373.5V381.2M159.00 364.9V377.5M159.50 357.8V369.0M160.50 360.0V370.8M162.00 366.1V378.5M162.50 367.6V372.1M163.00 366.2V372.4M165.00 361.2V381.1M165.50 355.8V366.0M166.00 344.6V359.5M166.50 338.0V350.2M167.50 340.8V348.0M168.00 338.2V349.9M170.50 331.8V343.8M171.00 326.7V334.1M171.50 323.0V328.1M172.00 320.5V326.9M172.50 307.4V321.9M173.00 310.8V319.7M175.00 317.0V323.1M175.50 315.6V320.6M176.00 315.2V323.7M178.00 325.6V330.4M178.50 324.2V327.8M182.00 329.2V343.6M183.00 326.0V332.9M185.50 341.7V346.0M186.50 344.5V353.8M188.00 353.7V361.3M188.50 348.6V363.9M189.50 349.4V353.3M190.50 341.6V354.8M191.50 339.6V346.8M199.50 384.5V394.5M200.00 381.4V390.9M200.50 369.0V388.1M202.50 390.4V395.1M205.50 428.5V443.2M206.00 431.7V439.1M206.50 426.4V439.4M207.00 424.0V437.0M207.50 416.8V426.9M208.00 418.2V426.7M208.50 410.9V421.7M209.00 407.4V414.6M213.00 431.6V437.1M215.00 444.8V450.9M216.00 446.1V459.3M217.00 446.6V455.3M217.50 446.8V453.9M218.00 442.8V451.1M218.50 427.8V447.7M219.50 425.8V441.1M221.00 439.6V448.7M223.00 457.4V463.1M223.50 457.0V461.9M224.00 453.3V462.4M225.00 446.3V458.2M226.00 435.2V446.3M226.50 431.1V438.2M227.00 428.6V435.0M227.50 423.6V436.5M228.00 420.4V428.0M228.50 415.9V423.9M229.50 408.8V422.7M230.00 400.9V413.4M230.50 391.4V405.6M231.00 384.1V394.4M231.50 375.9V388.4M237.50 415.5V429.3M238.00 422.7V427.6M239.00 422.5V429.5M239.50 423.6V435.6M240.00 422.2V434.7M241.50 435.1V438.6M242.00 427.1V439.4M243.50 436.1V439.6M244.50 445.4V452.2M247.50 497.6V503.9M251.00 521.6V527.3M252.00 526.3V531.9M253.00 528.5V535.4M254.50 533.9V543.5M255.00 537.0V544.1M256.50 545.6V552.8M259.50 565.6V573.9M261.00 574.5V588.5M261.50 569.6V581.3M262.50 557.6V571.9M263.00 555.0V561.1M263.50 550.7V556.8M264.50 545.0V558.5M265.00 543.5V552.1M268.00 568.9V582.1M268.50 568.0V576.1M269.00 565.4V573.2M270.50 569.1V575.6M271.00 568.7V575.7M271.50 563.2V571.5M272.00 563.8V569.4M272.50 552.6V565.9M273.00 549.0V561.0M273.50 542.6V555.9M274.00 536.4V548.4M277.00 548.5V557.2M278.50 553.6V562.2M279.00 551.0V559.1M280.00 547.8V555.9M280.50 547.7V553.1M282.00 543.6V556.8M282.50 539.9V547.7M283.00 532.5V545.6M283.50 530.3V538.9M284.00 526.6V536.8M286.50 547.2V555.5M288.00 563.4V576.1M291.00 583.9V587.8M292.50 576.9V590.2M293.00 574.0V583.8M293.50 571.3V579.7M294.00 571.7V577.7M295.00 569.7V577.2M296.00 558.8V572.7M299.00 582.3V587.3M301.00 583.8V588.1M302.00 578.5V584.3M302.50 579.0V586.0M303.00 580.6V587.0M304.00 574.0V583.8M304.50 570.6V583.4M305.50 574.5V579.6M306.50 579.4V585.4M307.00 578.9V584.5M308.00 583.9V586.4M308.50 583.7V592.0M310.50 599.2V604.3M311.00 599.1V609.0M312.50 597.4V610.0M313.00 593.7V602.6M313.50 596.1V598.4M314.00 592.0V601.4M314.50 591.0V594.9M315.50 587.4V594.6M316.00 583.5V589.2M316.50 574.9V585.2M317.00 569.2V577.8M317.50 557.8V573.0M320.50 706.0V714.3M321.00 696.6V709.2M321.50 693.6V701.3M322.00 687.5V698.4M323.00 690.3V695.9M325.50 702.2V710.3M326.00 695.8V705.2M326.50 694.2V703.1M327.50 703.1V707.0M328.00 702.3V708.0M328.50 697.5V708.8M330.00 703.6V709.0M330.50 704.0V709.7M331.50 697.9V703.0M332.50 693.8V701.5M333.00 691.4V696.6M334.50 697.2V702.0M336.00 712.8V720.1M340.00 736.3V755.5M340.50 721.1V737.3M341.00 713.8V723.4M341.50 701.8V715.7M342.00 697.5V705.8M342.50 692.3V699.9M343.00 687.8V695.0M343.50 680.2V690.0M344.00 672.1V681.3M344.50 664.7V673.7M345.00 652.0V666.3M345.50 635.9V653.8M346.00 634.8V645.5M346.50 629.3V639.5M347.00 624.9V634.9M347.50 626.0V631.5M348.00 619.7V631.4M348.50 616.0V626.4M349.50 616.5V624.4M351.00 617.6V623.1M352.50 624.5V630.4M353.00 621.2V630.8M354.00 622.9V629.0M357.50 637.9V647.6M358.00 633.1V641.9M358.50 630.7V640.9M359.00 624.4V639.0M360.00 619.0V630.5M367.00 657.4V661.3M367.50 655.7V661.7M368.00 649.2V658.2M369.00 643.9V653.4M370.00 634.8V647.4M370.50 633.5V641.1M371.00 631.0V636.1M372.00 631.3V637.9M372.50 631.7V637.1M374.00 632.6V642.6M375.50 642.2V647.7M376.00 641.2V646.7M378.00 640.8V652.2M378.50 636.6V645.0M379.00 636.9V641.9M379.50 635.0V641.2M380.00 629.6V638.8M380.50 625.2V633.3M381.00 619.7V629.3M382.00 617.8V624.4M383.50 621.8V629.3M385.50 632.4V636.6M387.00 634.1V638.9M387.50 631.1V636.3M388.00 628.9V637.0M390.00 632.0V636.7M391.50 641.8V648.3M392.00 644.3V650.4M393.50 644.2V653.6M396.00 652.1V659.2M397.00 650.4V658.7M398.50 642.5V655.5M399.00 641.1V646.3M400.00 641.6V647.8M400.50 640.6V647.0M401.00 638.4V645.3M401.50 637.7V644.0M405.00 682.6V690.7M405.50 682.6V688.2M406.00 678.2V688.4M406.50 677.7V682.0M407.00 673.0V680.5M407.50 669.5V678.3M409.00 672.2V677.4M409.50 668.4V675.7M410.50 662.8V670.8M411.50 655.6V665.9M412.00 650.4V660.3M412.50 648.6V656.0M413.00 643.5V651.3M413.50 645.1V648.2M414.00 640.6V649.1M414.50 638.3V643.4M415.00 636.3V641.4M416.00 623.8V638.5M416.50 614.0V626.9M417.00 609.9V620.0M417.50 598.7V611.0M419.00 600.4V609.0M421.00 616.7V622.7M422.00 620.3V625.8M423.50 625.4V629.7M424.00 626.1V629.8M425.00 622.4V629.2M426.00 619.0V624.1M427.00 621.2V626.4M431.00 632.5V638.9M433.00 638.5V645.5M433.50 640.0V643.4M435.00 640.7V650.2M435.50 641.7V646.2M436.50 645.8V650.3M438.00 648.7V657.9M440.50 655.6V661.6M441.50 662.1V667.9M442.00 659.9V664.6M443.00 656.7V662.3M443.50 654.0V661.9M444.00 651.8V658.5M444.50 644.6V656.6M446.00 650.1V653.8M446.50 643.5V656.4M447.00 652.1V656.0M448.00 643.8V653.6M448.50 636.7V646.3M449.00 618.6V638.5M449.50 621.0V627.6M451.50 630.0V634.3M452.00 630.4V634.2M453.50 632.0V640.1M454.00 632.8V637.3M454.50 631.6V636.6M455.00 623.6V635.8M455.50 620.7V629.5M456.00 610.5V626.1M456.50 608.1V614.8M457.00 600.1V613.4M457.50 592.7V607.0M458.00 586.0V594.9M458.50 581.8V591.7M459.00 579.6V587.2M459.50 573.0V582.8M460.00 569.4V575.9M460.50 565.9V573.6M461.50 558.8V566.8M462.00 556.5V563.9M462.50 551.7V561.0M463.00 545.0V556.0M463.50 532.1V548.0M464.00 532.2V542.0M464.50 523.0V534.0M465.00 515.1V526.0M465.50 507.5V516.9M466.00 497.5V509.2M466.50 497.6V502.4M469.50 501.5V511.6M470.50 508.9V514.6M471.00 505.2V513.8M471.50 504.6V510.3M472.00 500.8V509.4M473.00 495.9V508.6M473.50 496.7V503.7M474.50 489.2V500.2M475.00 489.2V496.4M475.50 485.0V494.9M476.00 479.4V488.1M477.50 469.9V479.7M478.00 468.6V475.4M478.50 470.1V476.2M480.00 467.5V478.5M480.50 459.6V470.9M481.00 446.1V461.5M481.50 431.1V448.3M482.00 424.3V436.7M482.50 406.8V427.4M486.50 426.9V429.6M488.50 432.6V437.9M490.50 431.4V438.9M493.00 441.5V449.1M493.50 442.9V449.4M494.00 439.0V447.4M494.50 438.5V448.3M495.00 436.6V443.9M495.50 435.6V439.5M497.00 427.9V434.5M498.50 426.0V429.6M500.00 421.5V434.3M501.50 419.0V425.3M502.00 415.6V423.5M503.00 413.2V424.4M503.50 413.3V418.5M504.00 410.2V418.6M507.00 421.0V428.7M508.50 410.9V421.8M509.00 406.6V413.0M509.50 405.9V410.4M510.00 399.7V412.0M510.50 389.9V403.6M511.00 391.1V397.2M511.50 378.4V393.4M512.00 377.2V380.8M512.50 372.8V382.8M513.00 368.8V376.9M513.50 362.4V372.0M514.00 356.8V367.8M514.50 352.9V361.9M515.00 343.2V356.1M516.00 336.8V344.1M516.50 333.7V345.4M517.00 330.8V343.0M520.00 339.2V350.2M521.50 337.2V343.2M523.00 342.7V350.4M525.00 354.6V358.9M528.00 381.2V391.4M529.50 378.3V385.3M530.00 375.8V384.1M530.50 369.9V378.7M531.00 371.1V376.4M533.50 381.5V388.2M534.50 379.0V385.2M535.00 376.8V382.2M535.50 373.4V380.0M536.50 371.9V377.6M537.50 368.5V381.1M539.00 369.2V372.7M539.50 359.6V371.9M540.00 362.0V367.7M540.50 356.5V365.2M541.00 348.2V361.1M541.50 344.3V354.4M543.50 354.9V362.6M544.50 356.0V361.3M545.50 356.0V360.1M546.00 357.0V362.7M546.50 353.6V360.9M548.50 363.4V371.2M551.00 377.5V383.5M551.50 376.6V383.5M555.50 391.2V396.9M556.50 382.4V391.4M557.50 380.3V388.1M560.00 390.7V395.4M561.00 384.1V395.2M561.50 381.3V388.1M562.00 379.8V385.9M563.00 374.1V384.8M563.50 368.9V376.8M564.00 365.5V375.9M564.50 363.8V368.5M565.00 357.0V367.0M565.50 355.3V361.2M566.00 351.8V358.1M566.50 352.9V357.8M567.00 352.6V355.9M567.50 350.9V358.6M568.00 350.2V354.8M573.50 377.1V381.9M574.00 372.8V382.3M574.50 367.8V377.2M575.00 365.8V372.8M577.50 377.7V385.6M578.00 376.6V382.3M578.50 373.2V382.3M579.00 372.8V382.4M579.50 367.3V376.0M580.00 368.6V373.4M582.00 380.8V383.9M583.00 385.0V391.7M583.50 387.1V395.2M584.00 390.7V395.9M584.50 391.7V396.4M585.50 394.1V400.3M586.00 391.7V396.4M586.50 387.1V395.3M588.00 389.4V398.4M589.50 384.3V391.8M590.00 383.2V389.9M591.00 377.0V388.0M591.50 373.0V382.0M592.00 372.2V375.8M592.50 368.3V378.0M593.00 366.6V372.3M595.00 374.9V384.2M596.00 376.2V381.6M596.50 376.3V380.7M597.00 377.1V381.2M598.00 377.3V385.1M598.50 376.1V381.4M599.00 370.7V380.0M599.50 373.1V378.1M600.50 364.2V377.8M602.00 364.5V369.6M602.50 359.6V371.0M603.00 352.0V363.7M603.50 351.9V357.9M604.50 349.6V358.1M605.50 353.5V356.6M606.50 354.6V364.3M607.00 357.0V360.7M607.50 356.5V360.8M608.00 349.7V360.1M608.50 343.4V355.3M609.00 339.9V347.1M609.50 338.0V342.9M610.00 335.3V341.3M610.50 332.0V338.7M611.00 330.7V334.3M611.50 328.6V333.4M612.50 325.4V333.2M613.00 315.5V328.9M613.50 315.1V322.5M614.00 313.4V319.6M614.50 307.8V317.0M615.00 307.7V313.8M615.50 303.4V311.1M617.00 304.0V312.0M619.00 311.2V318.2M619.50 311.4V315.7M620.50 312.9V319.9M623.50 326.4V331.3M624.50 325.7V330.9M625.50 323.6V331.8M626.00 326.1V331.8M629.00 342.8V348.1M629.50 341.0V345.7M630.50 338.7V349.6M631.00 337.7V344.2M632.00 331.3V339.9M632.50 326.7V334.6M633.00 324.9V331.0M635.00 344.1V350.2M636.00 342.0V355.3M636.50 333.4V344.1M637.00 329.1V337.6M637.50 321.1V331.2M638.00 313.9V324.5M638.50 301.7V315.5M639.00 293.8V306.1M643.50 329.4V334.2M646.00 337.6V345.6M646.50 336.3V344.3M647.50 333.9V341.1M648.00 334.7V337.5M649.50 346.1V351.9M650.00 346.2V352.0M651.00 353.0V357.4M651.50 352.6V357.2M652.50 356.4V361.7M653.50 359.8V364.8M654.00 354.6V366.2M654.50 356.3V360.8M655.50 383.6V389.3M656.00 377.2V385.8M656.50 376.4V382.9M659.50 393.1V397.7M660.00 385.9V401.0M660.50 392.1V396.5M661.50 388.6V399.5M662.50 385.2V391.8M663.00 381.7V389.6M664.00 383.8V388.4M666.00 394.4V398.5M670.00 418.9V428.1M670.50 410.6V421.6M671.50 399.5V408.3M672.50 396.7V405.0M673.50 394.7V397.8M674.00 384.0V399.1M674.50 383.7V395.3M675.00 381.4V386.8M675.50 377.3V386.0M676.00 377.0V383.5M676.50 374.9V381.6M678.00 378.2V385.8M679.00 380.9V389.2M679.50 378.7V385.4M681.00 367.7V376.7M682.00 360.2V370.4M682.50 349.5V365.7M683.00 353.6V361.0M684.50 353.1V358.2M685.50 353.8V358.8M686.50 351.2V356.3M687.50 346.4V351.5M688.00 345.4V350.2M689.50 355.7V361.3M690.00 355.7V360.6M692.00 361.3V369.7M693.50 367.4V370.6M699.00 382.6V387.5M700.00 381.3V390.4M700.50 380.1V385.4M701.50 378.5V382.4M702.00 376.3V384.5M702.50 373.3V380.5M703.50 376.0V382.0M704.50 372.9V379.0M705.00 369.2V376.9M705.50 368.0V375.2M706.00 368.6V373.5M706.50 366.1V373.8M707.00 363.2V368.7M708.00 360.9V369.0M708.50 355.4V364.5M709.00 355.8V362.3M709.50 350.5V357.8M710.00 348.5V353.2M710.50 345.0V358.9M711.50 340.8V351.0M712.00 340.5V344.7M712.50 341.2V344.2M713.50 343.4V349.6M714.50 345.4V350.5M715.50 353.0V362.1M716.50 359.8V365.8M717.00 354.2V366.7M718.00 352.8V358.2M718.50 345.6V356.2M720.00 349.5V354.1M721.00 339.1V349.7M722.00 342.2V346.0M722.50 342.4V350.0M723.50 346.3V351.3M724.00 347.2V351.0M724.50 342.2V349.8M725.00 338.4V346.7M725.50 332.4V341.7M726.00 329.2V337.5M726.50 329.5V334.0M727.50 332.6V338.8M728.00 331.5V339.0M729.50 334.0V338.7M730.00 328.4V337.7M731.00 322.9V332.6M731.50 323.6V329.2M732.00 315.6V326.8M733.00 307.7V315.4M733.50 309.3V312.2M737.00 318.1V324.5M739.00 334.3V342.0M739.50 329.6V340.7M740.00 326.6V332.4M740.50 321.1V330.0M741.00 318.0V327.8M746.00 348.1V351.9" stroke="#2b8873" stroke-width="2.3" fill="none" opacity="0.32"/>
<path d="M67.50 742.4V757.4M68.00 755.2V766.5M68.50 765.0V777.8M72.00 671.9V686.4M72.50 680.6V688.9M73.00 687.2V701.5M73.50 695.9V706.9M74.00 700.9V708.3M75.50 690.9V703.6M76.00 693.3V700.0M78.50 685.3V697.0M79.00 686.0V694.1M79.50 688.6V699.6M80.00 690.4V695.6M81.50 683.1V694.2M82.00 688.0V706.8M82.50 695.2V706.7M83.00 701.1V705.8M89.00 593.8V604.9M90.00 596.2V604.4M90.50 599.5V606.0M91.00 601.2V618.3M96.50 537.2V545.2M98.00 530.4V538.5M98.50 534.6V544.6M99.00 537.5V543.5M100.00 537.2V543.1M100.50 538.4V543.8M101.00 537.1V550.4M102.50 535.6V544.1M103.00 538.8V544.4M104.50 531.4V538.3M105.50 534.8V566.1M106.00 561.1V576.5M106.50 574.8V591.5M107.00 588.0V594.8M107.50 589.5V601.3M108.00 597.4V606.0M113.00 537.6V548.6M114.00 543.1V550.5M115.50 550.7V561.1M116.50 552.7V561.6M117.00 559.1V575.2M117.50 567.8V578.7M118.00 573.5V580.8M118.50 577.9V585.7M119.50 581.2V587.9M121.50 570.4V578.0M123.50 561.7V570.9M124.00 565.1V573.5M124.50 565.4V585.8M125.00 571.5V583.8M125.50 580.7V584.3M126.00 580.1V587.4M126.50 583.4V594.6M127.50 590.4V599.0M128.50 594.0V602.7M129.00 597.3V602.8M129.50 600.3V609.2M130.00 602.8V610.7M132.00 589.1V597.8M134.50 572.8V576.7M135.50 565.8V569.4M139.50 547.0V551.7M142.50 465.3V474.9M143.50 472.1V487.3M150.00 351.9V359.5M150.50 356.1V364.6M151.00 356.1V364.6M151.50 361.9V370.7M152.00 365.1V376.4M153.00 374.2V382.0M153.50 373.6V385.6M154.00 378.0V387.3M154.50 384.6V402.7M155.00 390.6V400.5M155.50 394.2V402.0M157.00 388.8V392.0M157.50 388.3V393.2M160.00 359.8V369.7M161.00 360.6V370.2M161.50 365.5V375.0M163.50 364.8V374.0M164.00 368.2V374.8M164.50 367.6V379.7M167.00 339.9V343.6M168.50 335.4V347.4M169.00 337.3V346.4M169.50 342.6V347.5M170.00 340.5V348.4M173.50 312.8V316.5M174.00 311.6V317.7M174.50 313.6V325.1M176.50 316.6V321.9M177.00 315.8V328.0M177.50 325.2V329.7M179.00 324.4V333.0M179.50 326.9V338.4M180.00 328.6V341.5M180.50 336.7V344.2M181.00 334.2V348.5M181.50 337.4V346.7M182.50 327.1V334.1M183.50 325.9V331.2M184.00 327.3V339.5M184.50 332.2V347.0M185.00 336.9V345.7M186.00 343.2V349.9M187.00 347.3V352.7M187.50 350.6V362.5M189.00 346.6V352.9M190.00 349.4V355.9M191.00 341.5V347.8M192.00 340.7V345.6M192.50 341.7V346.4M193.00 339.6V350.2M193.50 345.5V354.5M194.00 351.8V357.4M194.50 353.0V357.4M195.00 354.0V360.9M195.50 358.7V371.2M196.00 365.3V371.3M196.50 367.4V376.8M197.00 372.7V380.3M197.50 376.0V382.7M198.00 379.1V387.7M198.50 377.5V385.2M199.00 377.4V387.5M201.00 370.4V374.8M201.50 372.6V384.4M202.00 382.1V393.7M203.00 390.6V401.4M203.50 398.3V416.1M204.00 410.6V423.6M204.50 420.6V432.4M205.00 430.2V448.5M209.50 408.3V412.6M210.00 406.3V412.9M210.50 408.7V416.1M211.00 411.6V418.9M211.50 414.6V422.5M212.00 419.5V430.3M212.50 426.8V435.1M213.50 432.4V443.3M214.00 439.4V448.0M214.50 443.6V449.6M215.50 446.5V458.1M216.50 447.4V455.7M219.00 435.7V444.4M220.00 429.0V435.5M220.50 431.0V446.5M221.50 440.7V453.9M222.00 450.0V458.2M222.50 450.6V463.4M224.50 450.4V455.6M225.50 438.3V450.6M229.00 412.3V418.6M232.00 375.9V390.6M232.50 383.6V393.5M233.00 391.8V399.3M233.50 397.6V408.7M234.00 401.0V409.2M234.50 406.6V419.2M235.00 412.1V420.2M235.50 415.9V426.0M236.00 416.9V431.4M236.50 427.3V429.6M237.00 423.8V430.3M238.50 423.6V435.4M240.50 426.4V432.6M241.00 430.4V439.6M242.50 430.1V438.4M243.00 433.1V438.2M244.00 437.3V450.9M245.00 447.5V452.8M245.50 450.2V474.5M246.00 471.0V487.3M246.50 479.6V495.5M247.00 492.0V504.1M248.00 499.1V509.2M248.50 503.6V514.4M249.00 508.1V515.7M249.50 512.8V516.8M250.00 511.9V524.0M250.50 518.9V524.8M251.50 521.7V533.4M252.50 527.2V535.6M253.50 527.0V536.3M254.00 529.5V541.3M255.50 536.8V546.5M256.00 538.1V549.6M257.00 546.1V553.6M257.50 551.1V562.7M258.00 558.8V571.0M258.50 562.9V570.2M259.00 562.6V575.5M260.00 571.6V577.3M260.50 575.0V585.9M262.00 565.4V573.6M264.00 549.0V556.5M265.50 547.0V560.2M266.00 553.2V573.6M266.50 560.4V570.4M267.00 564.9V574.1M267.50 570.6V586.2M269.50 566.9V572.0M270.00 567.9V576.2M274.50 535.2V541.0M275.00 534.9V541.2M275.50 539.0V547.8M276.00 542.9V554.0M276.50 547.3V552.3M277.50 550.6V561.3M278.00 554.5V560.1M279.50 550.0V556.4M281.00 549.8V552.7M281.50 549.7V554.6M284.50 522.4V531.2M285.00 526.9V531.3M285.50 529.6V544.6M286.00 540.5V553.2M287.00 548.4V564.0M287.50 558.1V568.7M288.50 564.7V572.0M289.00 567.4V583.0M289.50 576.8V582.4M290.00 573.7V585.2M290.50 580.1V589.0M291.50 580.0V589.0M292.00 580.6V589.2M294.50 571.5V579.3M295.50 568.6V574.3M296.50 559.7V564.9M297.00 562.6V578.1M297.50 567.2V574.7M298.00 572.2V582.6M298.50 578.6V586.0M299.50 584.1V588.3M300.00 583.5V591.1M300.50 579.9V592.8M301.50 581.1V588.0M303.50 578.9V587.1M305.00 572.8V580.5M306.00 573.8V582.7M307.50 582.1V586.4M309.00 587.6V597.5M309.50 588.4V595.7M310.00 590.4V604.2M311.50 597.9V611.0M312.00 598.1V612.6M315.00 576.8V596.0M318.00 560.4V585.1M318.50 581.9V610.7M319.00 609.7V667.7M319.50 665.1V703.3M320.00 702.1V714.2M322.50 687.0V694.2M323.50 693.5V703.6M324.00 698.3V712.8M324.50 702.1V711.7M325.00 708.6V711.5M327.00 698.1V705.2M329.00 699.2V704.7M329.50 702.2V710.3M331.00 699.4V708.1M332.00 698.2V701.7M333.50 687.5V697.5M334.00 694.4V701.2M335.00 697.3V710.9M335.50 707.5V715.8M336.50 714.0V722.5M337.00 715.1V731.3M337.50 723.2V730.6M338.00 725.9V735.6M338.50 731.0V740.2M339.00 736.4V744.1M339.50 740.6V757.0M349.00 615.3V622.7M350.00 615.9V622.8M350.50 616.4V630.4M351.50 619.5V626.3M352.00 622.4V632.5M353.50 620.6V629.4M354.50 622.8V630.2M355.00 627.5V632.7M355.50 628.7V635.9M356.00 632.2V644.4M356.50 638.2V643.5M357.00 641.4V648.4M359.50 626.1V630.0M360.50 620.9V626.5M361.00 621.3V626.7M361.50 621.9V632.7M362.00 625.9V631.8M362.50 628.2V637.3M363.00 631.9V638.4M363.50 634.9V641.9M364.00 636.1V643.0M364.50 638.9V646.1M365.00 641.7V652.1M365.50 646.6V651.7M366.00 647.7V656.0M366.50 653.4V660.3M368.50 647.3V655.0M369.50 640.4V648.6M371.50 631.4V637.2M373.00 632.9V639.6M373.50 634.1V642.0M374.50 634.3V646.3M375.00 642.1V649.3M376.50 644.2V647.2M377.00 640.0V647.4M377.50 642.5V647.5M381.50 620.6V625.1M382.50 611.5V623.8M383.00 621.0V627.2M384.00 624.0V632.0M384.50 625.5V638.3M385.00 628.6V644.6M386.00 633.4V637.3M386.50 634.6V637.5M388.50 628.7V635.2M389.00 631.6V636.7M389.50 633.5V640.3M390.50 633.7V646.5M391.00 640.5V645.7M392.50 644.2V647.6M393.00 644.4V656.6M394.00 643.3V652.5M394.50 650.3V654.5M395.00 650.0V659.0M395.50 654.9V659.1M396.50 652.7V658.8M397.50 650.5V654.1M398.00 646.4V655.9M399.50 642.5V646.3M402.00 639.6V650.4M402.50 647.1V658.0M403.00 654.9V661.5M403.50 657.6V667.9M404.00 666.9V673.6M404.50 672.6V690.5M408.00 672.8V680.2M408.50 672.9V680.9M410.00 666.8V671.6M411.00 659.3V665.1M415.50 636.0V640.6M418.00 596.7V602.3M418.50 598.2V607.3M419.50 605.8V614.1M420.00 607.9V620.6M420.50 616.9V624.7M421.50 617.3V626.9M422.50 622.9V626.9M423.00 621.1V630.0M424.50 625.5V630.5M425.50 620.8V630.8M426.50 618.9V626.6M427.50 621.3V626.4M428.00 619.5V628.6M428.50 620.5V625.9M429.00 622.8V631.1M429.50 626.8V633.7M430.00 627.5V633.5M430.50 630.0V640.3M431.50 634.9V639.0M432.00 635.7V644.0M432.50 639.9V645.0M434.00 639.8V646.3M434.50 641.6V648.3M436.00 643.0V649.2M437.00 645.0V652.5M437.50 649.7V654.5M438.50 647.2V657.9M439.00 652.9V658.1M439.50 654.5V665.4M440.00 656.3V662.6M441.00 656.6V666.6M442.50 657.3V663.5M445.00 648.2V652.5M445.50 650.1V653.4M447.50 649.5V654.9M450.00 619.8V630.5M450.50 626.8V631.8M451.00 625.8V633.5M452.50 629.8V637.7M453.00 633.9V643.5M461.00 561.9V574.4M467.00 496.9V507.9M467.50 497.5V504.2M468.00 496.8V505.8M468.50 501.2V510.5M469.00 504.8V511.4M470.00 501.8V514.3M472.50 503.3V508.0M474.00 491.8V501.6M476.50 473.0V482.4M477.00 472.5V478.5M479.00 471.7V479.4M479.50 473.7V481.3M483.00 408.6V417.4M483.50 414.6V424.4M484.00 417.7V425.5M484.50 422.7V425.8M485.00 423.6V431.9M485.50 422.0V428.1M486.00 421.8V429.6M487.00 426.6V435.8M487.50 432.1V438.2M488.00 432.7V438.0M489.00 433.1V435.9M489.50 428.9V439.0M490.00 435.9V443.4M491.00 432.2V436.2M491.50 429.4V439.1M492.00 430.8V439.0M492.50 434.2V445.1M496.00 430.6V438.8M496.50 430.6V435.6M497.50 429.3V432.2M498.00 421.6V433.7M499.00 425.6V433.0M499.50 428.5V436.4M500.50 421.4V428.4M501.00 422.7V431.2M502.50 418.3V424.1M504.50 410.7V413.8M505.00 409.3V415.6M505.50 412.0V415.7M506.00 413.5V421.7M506.50 416.5V424.6M507.50 418.4V427.0M508.00 413.2V420.9M515.50 340.2V346.8M517.50 333.4V340.4M518.00 336.4V344.6M518.50 342.5V347.1M519.00 341.9V348.0M519.50 343.0V349.8M520.50 339.4V342.6M521.00 338.7V344.7M522.00 337.1V345.9M522.50 342.5V347.2M523.50 347.3V352.7M524.00 347.7V355.5M524.50 352.9V359.1M525.50 355.3V361.3M526.00 354.9V362.0M526.50 359.1V367.0M527.00 365.7V379.1M527.50 376.1V391.3M528.50 380.8V384.7M529.00 381.0V384.5M531.50 371.8V380.8M532.00 374.8V378.9M532.50 375.9V383.9M533.00 380.6V385.9M534.00 381.0V385.4M536.00 371.8V378.8M537.00 370.3V375.4M538.00 368.0V372.1M538.50 369.1V374.4M542.00 345.6V353.6M542.50 349.2V357.9M543.00 355.3V362.1M544.00 354.8V358.8M545.00 356.0V359.2M547.00 354.8V364.2M547.50 359.1V366.4M548.00 358.6V369.7M549.00 363.6V369.3M549.50 366.0V372.4M550.00 370.0V374.4M550.50 371.8V382.2M552.00 379.5V384.4M552.50 381.5V386.7M553.00 381.6V386.6M553.50 383.7V394.2M554.00 388.5V394.6M554.50 388.9V396.7M555.00 391.7V397.2M556.00 386.8V393.8M557.00 382.4V387.1M558.00 379.0V383.6M558.50 380.2V389.5M559.00 386.7V391.2M559.50 387.0V399.2M560.50 390.6V397.0M562.50 379.8V383.3M568.50 349.3V357.3M569.00 353.4V357.9M569.50 354.9V362.7M570.00 359.9V366.3M570.50 363.2V367.8M571.00 363.6V372.0M571.50 364.9V376.3M572.00 372.6V381.1M572.50 378.5V384.6M573.00 379.0V384.3M575.50 365.1V370.0M576.00 367.3V375.0M576.50 370.3V381.4M577.00 375.2V382.6M580.50 368.5V374.4M581.00 371.1V379.3M581.50 373.4V383.5M582.50 379.9V390.5M585.00 391.7V399.8M587.00 386.4V392.3M587.50 388.0V393.6M588.50 390.9V396.1M589.00 389.1V396.1M590.50 382.2V391.1M593.50 363.7V374.6M594.00 368.7V376.2M594.50 372.1V387.1M595.50 375.7V383.5M597.50 377.9V381.0M600.00 372.3V375.9M601.00 364.2V370.2M601.50 366.9V370.1M604.00 348.6V358.1M605.00 351.1V356.3M606.00 353.9V361.1M612.00 327.4V333.3M616.00 303.3V306.5M616.50 304.2V310.9M617.50 304.6V311.1M618.00 306.2V317.3M618.50 310.9V315.2M620.00 312.7V318.3M621.00 312.0V320.7M621.50 317.9V325.4M622.00 320.3V330.5M622.50 321.8V325.0M623.00 322.3V332.4M624.00 323.1V332.9M625.00 325.7V330.3M626.50 328.9V336.9M627.00 332.7V341.6M627.50 337.5V345.1M628.00 338.4V345.1M628.50 342.3V347.8M630.00 339.1V346.5M631.50 336.6V341.0M633.50 325.8V334.0M634.00 331.7V343.6M634.50 339.9V350.1M635.50 346.9V358.0M639.50 293.0V305.7M640.00 300.0V307.8M640.50 304.2V309.3M641.00 305.2V316.9M641.50 311.8V321.4M642.00 318.6V325.2M642.50 320.9V327.0M643.00 323.4V332.2M644.00 330.7V336.4M644.50 331.2V339.0M645.00 335.5V341.5M645.50 337.8V345.0M647.00 337.7V341.0M648.50 331.8V345.9M649.00 342.8V352.0M650.50 348.2V358.2M652.00 353.9V360.3M653.00 358.5V363.0M655.00 358.9V389.7M657.00 377.3V384.0M657.50 379.6V387.4M658.00 385.3V390.7M658.50 386.3V393.7M659.00 389.2V397.2M661.00 389.8V396.5M662.00 387.0V393.8M663.50 382.4V389.2M664.50 383.8V396.3M665.00 389.5V394.8M665.50 391.2V402.3M666.50 393.2V400.5M667.00 395.9V408.8M667.50 402.4V407.3M668.00 404.5V414.7M668.50 409.6V414.4M669.00 411.9V422.6M669.50 418.7V428.3M671.00 402.8V412.7M672.00 397.7V404.0M673.00 394.6V401.2M677.00 377.4V383.2M677.50 376.5V385.3M678.50 378.2V385.0M680.00 373.8V382.7M680.50 374.1V378.9M681.50 365.2V373.5M683.50 348.6V357.1M684.00 352.8V358.3M685.00 352.8V360.1M686.00 353.8V357.1M687.00 346.4V353.8M688.50 345.9V354.7M689.00 350.7V359.4M690.50 355.6V362.8M691.00 360.2V365.2M691.50 362.0V367.9M692.50 363.6V371.6M693.00 366.0V372.0M694.00 365.9V371.1M694.50 363.7V370.2M695.00 366.4V372.1M695.50 367.9V373.1M696.00 368.7V376.6M696.50 371.9V379.1M697.00 374.7V378.9M697.50 374.1V384.4M698.00 379.5V382.8M698.50 380.1V389.2M699.50 383.4V389.9M701.00 375.5V385.1M703.00 374.3V379.8M704.00 372.9V381.5M707.50 360.6V368.9M711.00 347.6V354.1M713.00 341.7V350.9M714.00 344.2V350.9M715.00 345.5V356.0M716.00 355.2V362.4M717.50 354.2V358.6M719.00 346.3V354.4M719.50 348.8V354.3M720.50 344.3V351.8M721.50 339.1V347.1M723.00 342.1V350.0M727.00 328.1V335.9M728.50 330.8V340.3M729.00 334.2V341.7M730.50 327.7V333.4M732.50 312.1V318.4M734.00 309.8V312.9M734.50 306.7V312.9M735.00 305.3V309.0M735.50 303.1V313.0M736.00 308.4V318.3M736.50 315.9V321.9M737.50 317.6V332.3M738.00 326.9V335.7M738.50 332.1V337.2M741.50 315.2V322.4M742.00 315.7V325.3M742.50 321.8V326.3M743.00 322.8V326.6M743.50 323.7V330.9M744.00 327.1V336.0M744.50 332.3V341.7M745.00 334.5V345.8M745.50 341.0V350.9M746.50 348.8V354.4M747.00 346.1V353.3" stroke="#e2504d" stroke-width="2.3" fill="none" opacity="0.3" style="mix-blend-mode:multiply"/>
  <!-- trend lines -->
  <g stroke="#8792ee" stroke-width="2.3" stroke-linecap="round" opacity="0.5">
    <line x1="337.5" y1="770.5" x2="460.5" y2="641.8"/>
    <line x1="490" y1="457.3" x2="604.5" y2="386"/>
    <line x1="665" y1="440.7" x2="749.5" y2="350"/>
  </g>
  <g stroke="#5b63cf" stroke-width="1.25" stroke-linecap="round">
    <line x1="337.5" y1="770.5" x2="460.5" y2="641.8"/>
    <line x1="490" y1="457.3" x2="604.5" y2="386"/>
    <line x1="665" y1="440.7" x2="749.5" y2="350"/>
  </g>
  <!-- TV logo -->
  <g fill="#131722">
    <path d="M1 783.2h8.8v11.8H5.5v-7.5H1z"/>
    <circle cx="14.1" cy="785.4" r="2.2"/>
    <path d="M18.4 783.2h5.5l-4 11.8h-5.5z"/>
  </g>
  <!-- symbol logo -->
  <circle cx="7.9" cy="12.5" r="4.4" fill="#3f9888"/>
  <path d="M5.8 11.3h4.4M8 11.3v3.6" stroke="#c3efe4" stroke-width="1.5" fill="none"/>
  <circle cx="3" cy="17.7" r="5.4" fill="#fff"/>
  <circle cx="3" cy="17.7" r="4.5" fill="#0c0c22"/>
  <path d="M0.6 16.3h4.4M0.6 17.8h4.4M0.6 19.3h4.4" stroke="#5a68c8" stroke-width="0.9"/>
  <!-- status dot -->
  <circle cx="193.2" cy="15.2" r="6" fill="#e4f3ee"/>
  <circle cx="193.2" cy="15.2" r="3.1" fill="#3f9a83"/>
  <!-- dropdown chevron -->
  <path d="M3.1 67.5l2.9 2.7 2.9-2.7" stroke="#131722" stroke-width="1.3" fill="none"/>
  <!-- usdt chevron -->
  <path d="M1268.5 15l2.2 2 2.2-2" stroke="#131722" stroke-width="1.2" fill="none"/>
  <!-- settings hexagon -->
  <path d="M1247.3 814.4h6.1l2.5 4.5-2.5 4.5h-6.1l-2.5-4.5z" stroke="#2a2e39" stroke-width="1" fill="none" stroke-linejoin="round"/>
  <circle cx="1250.3" cy="818.9" r="1.7" stroke="#2a2e39" stroke-width="1" fill="none"/>
</svg>

<div id="topbar" class="abs"></div>
<div id="botbar" class="abs"></div>
<div id="rightbar" class="abs"></div>

<div class="abs title">SOL / TetherUS · 1D · Binance</div>
<div class="abs ohlc">O<span>181.97</span><i></i>H<span>188.26</span><i></i>L<span>181.75</span><i></i>C<span>184.71</span><i></i><span>+2.75 (+1.51%)</span></div>
<div class="abs btn sell"><b>184.70</b><br><span>SELL</span></div>
<div class="abs spread">0.01</div>
<div class="abs btn buy"><b>184.71</b><br><span>BUY</span></div>
<div class="abs dd">8</div>
<div class="abs usdt"><span>USDT</span></div>

<div class="pl" style="top:26.7px">1,900.00</div><div class="pl" style="top:58.6px">1,500.00</div><div class="pl" style="top:88.8px">1,200.00</div><div class="pl" style="top:121.0px">950.00</div><div class="pl" style="top:152.2px">750.00</div><div class="pl" style="top:184.6px">590.00</div><div class="pl" style="top:216.8px">465.00</div><div class="pl" style="top:250.2px">365.00</div><div class="pl" style="top:282.9px">285.00</div><div class="pl" style="top:314.8px">225.00</div><div class="pl" style="top:383.8px">135.00</div><div class="pl" style="top:417.7px">105.00</div><div class="pl" style="top:446.2px">85.00</div><div class="pl" style="top:474.4px">69.00</div><div class="pl" style="top:507.5px">54.00</div><div class="pl" style="top:541.4px">42.00</div><div class="pl" style="top:570.0px">34.00</div><div class="pl" style="top:601.1px">27.00</div><div class="pl" style="top:635.0px">21.00</div><div class="pl" style="top:663.6px">17.00</div><div class="pl" style="top:694.7px">13.50</div><div class="pl" style="top:728.6px">10.50</div><div class="pl" style="top:757.2px">8.50</div><div class="pl" style="top:785.3px">6.90</div>

<div class="tag" style="left:1221.5px;top:143.6px;width:44.5px;height:15px;background:#4b8fe8">803.51</div>
<div class="tag" style="left:1221.5px;top:297.3px;width:44.5px;height:15px;background:#4257f0">257.63</div>
<div class="tag" style="left:1168.7px;top:341.8px;width:52.3px;height:15px;background:#3f9f86;padding-left:4.4px;letter-spacing:0;font-size:10.5px"><span style="display:inline-block;transform-origin:0 50%;transform:scaleX(0.87)">SOLUSDT</span></div>
<div class="tag" style="left:1221.8px;top:341.8px;width:54.5px;height:28.4px;background:#3f9f86;line-height:13.5px;padding-top:1px">184.71<br><span style="color:#cdeae1">06:37:41</span></div>
<div class="tag" style="left:1221.8px;top:370.8px;width:44.2px;height:14.8px;background:#555557">184.52</div>
<div class="tag" style="left:1221.8px;top:395.6px;width:44.2px;height:15.2px;background:#ee9b31;color:#131313">124.05</div>

<div class="tl b" style="left:20px">2021</div><div class="tl" style="left:92px">Jul</div><div class="tl b" style="left:165px">2022</div><div class="tl" style="left:237px">Jul</div><div class="tl b" style="left:310px">2023</div><div class="tl" style="left:382px">Jul</div><div class="tl b" style="left:455px">2024</div><div class="tl" style="left:528px">Jul</div><div class="tl b" style="left:601px">2025</div><div class="tl" style="left:673px">Jul</div><div class="tl b" style="left:746px">2026</div><div class="tl" style="left:818px">Jul</div><div class="tl b" style="left:891px">2027</div>
</body>
</html>
